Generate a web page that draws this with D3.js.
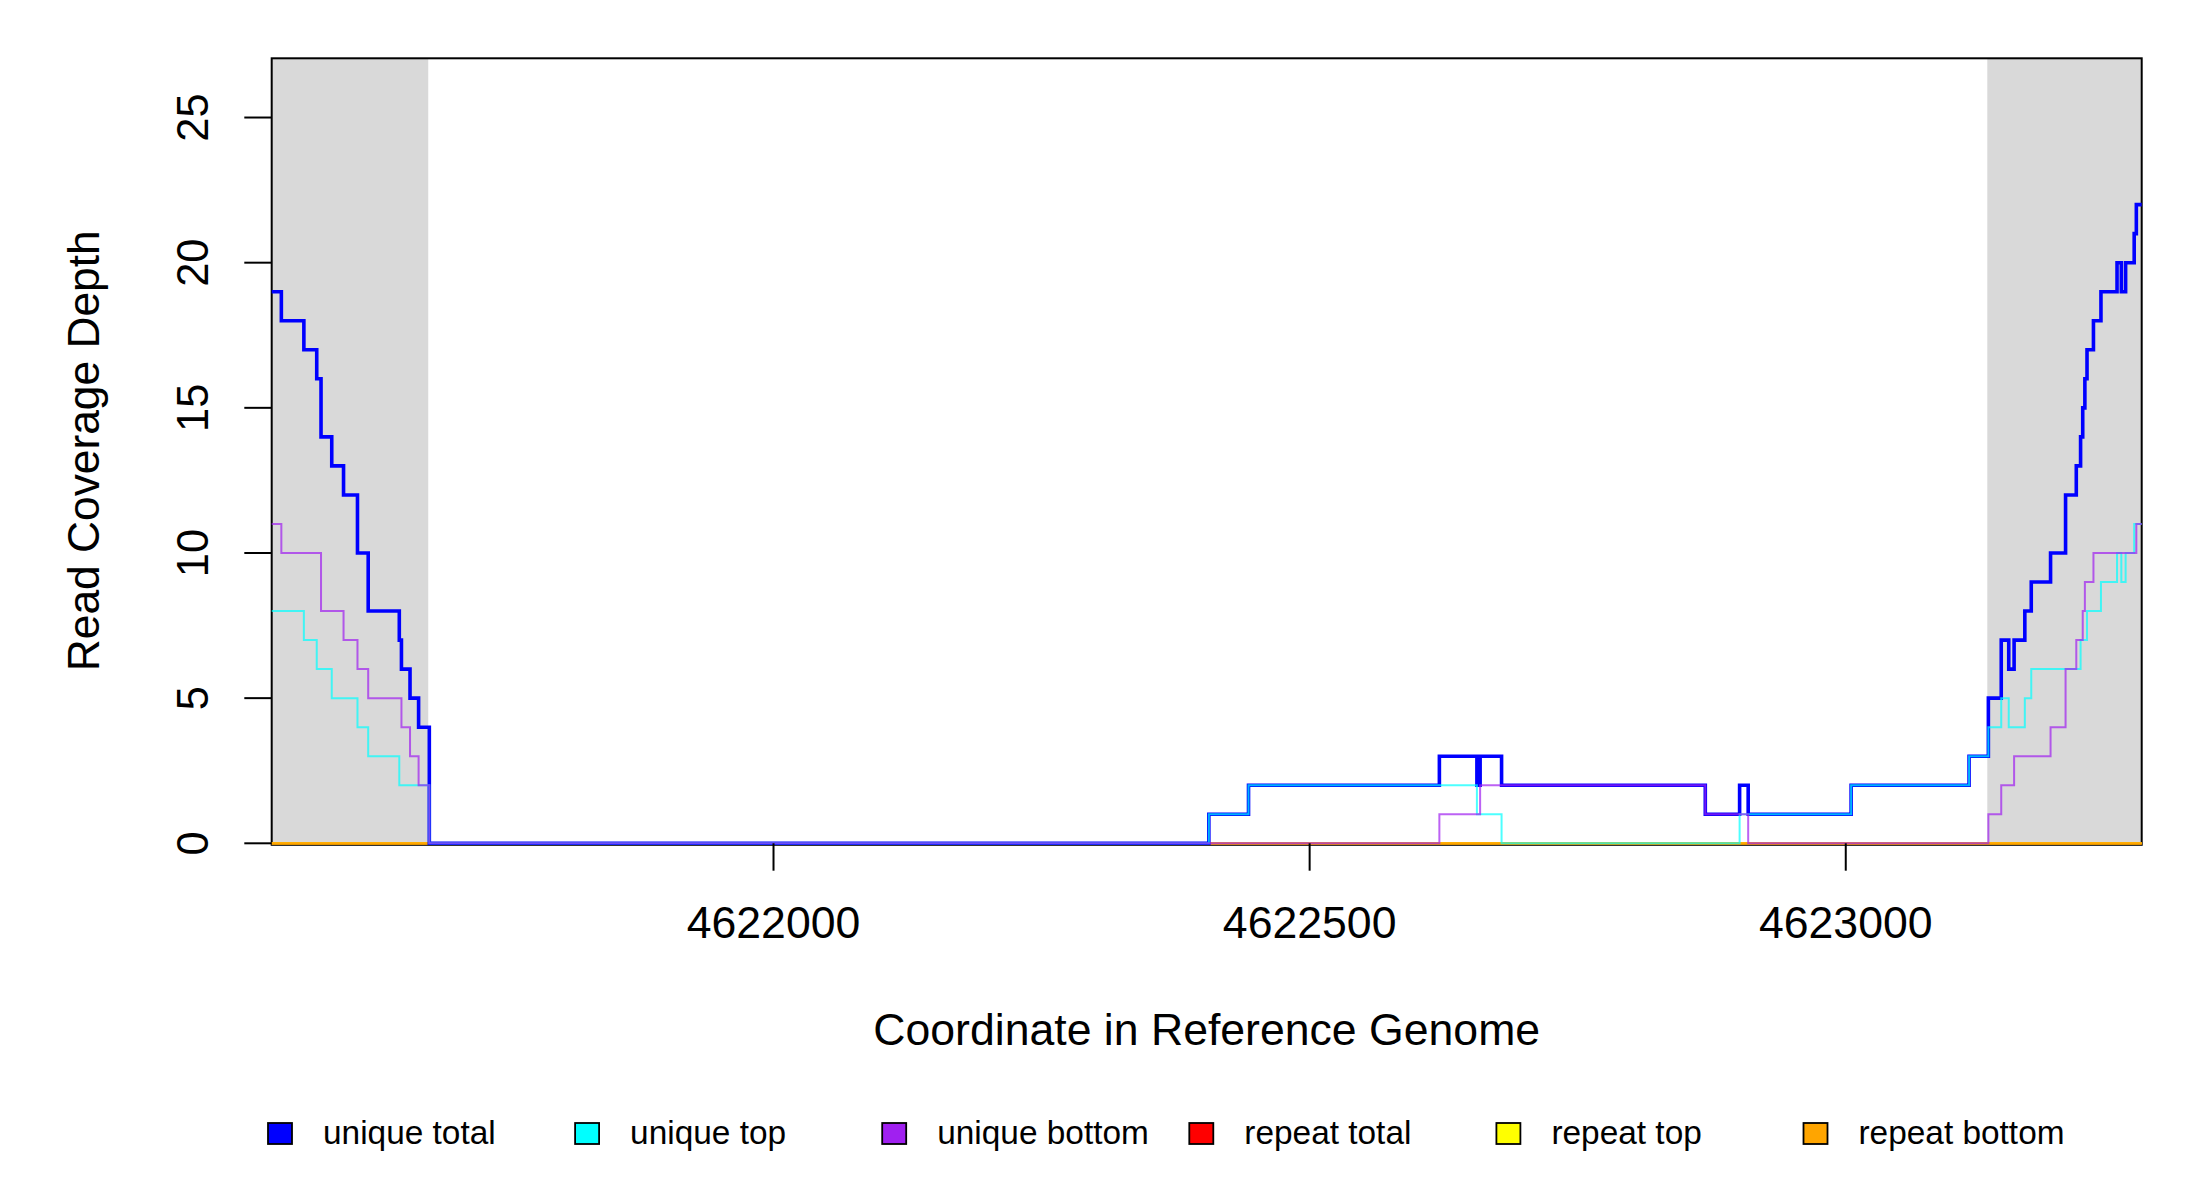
<!DOCTYPE html>
<html>
<head>
<meta charset="utf-8">
<script src="https://cdn.jsdelivr.net/npm/d3@7/dist/d3.min.js"></script>
<style>
  body { margin: 0; background: #fff; }
  text { font-family: "Liberation Sans", Arial, sans-serif; fill: #000; }
</style>
</head>
<body>
<svg id="chart"></svg>
<script>
// Coverage steps: value holds from each position until the next one
const xStart = 4621532;
const xEnd = 4623276;

const uniqueTotalPos = [4621532, 4621541, 4621562, 4621574, 4621578, 4621588, 4621599, 4621612, 4621622, 4621651,
  4621653, 4621661, 4621669, 4621679, 4622406, 4622443, 4622621, 4622656, 4622659, 4622679,
  4622869, 4622901, 4622909, 4623005, 4623115, 4623133, 4623145, 4623152, 4623157, 4623167,
  4623173, 4623191, 4623205, 4623215, 4623219, 4623221, 4623223, 4623225, 4623231, 4623238,
  4623253, 4623257, 4623261, 4623269, 4623271];
const uniqueTotalDepth = [19, 18, 17, 16, 14, 13, 12, 10, 8, 7,
  6, 5, 4, 0, 1, 2, 3, 2, 3, 2,
  1, 2, 1, 2, 3, 5, 7, 6, 7, 8,
  9, 10, 12, 13, 14, 15, 16, 17, 18, 19,
  20, 19, 20, 21, 22];

const uniqueTopPos = [4621532, 4621562, 4621574, 4621588, 4621612, 4621622, 4621651, 4621679, 4622406, 4622443,
  4622656, 4622679, 4622901, 4623005, 4623115, 4623133, 4623145, 4623152, 4623167, 4623173,
  4623219, 4623225, 4623238, 4623253, 4623257, 4623261, 4623269];
const uniqueTopDepth = [8, 7, 6, 5, 4, 3, 2, 0, 1, 2,
  1, 0, 1, 2, 3, 4, 5, 4, 5, 6,
  7, 8, 9, 10, 9, 10, 11];

const uniqueBottomPos = [4621532, 4621541, 4621578, 4621599, 4621612, 4621622, 4621653, 4621661, 4621669, 4621679,
  4622621, 4622659, 4622869, 4622909, 4623133, 4623145, 4623157, 4623191, 4623205, 4623215,
  4623221, 4623223, 4623231, 4623271];
const uniqueBottomDepth = [11, 10, 8, 7, 6, 5, 4, 3, 2, 0,
  1, 2, 1, 0, 1, 2, 3, 4, 6, 7,
  8, 9, 10, 11];

const repeatTotalPos = [4621532];
const repeatTotalDepth = [0];
const repeatTopPos = [4621532];
const repeatTopDepth = [0];
const repeatBottomPos = [4621532];
const repeatBottomDepth = [0];

// gray shaded flanks
const shadeFrom = [4621532, 4623132];
const shadeTo = [4621678, 4623276];

const xTicks = [4622000, 4622500, 4623000];
const yTicks = [0, 5, 10, 15, 20, 25];

const legendLabels = ["unique total", "unique top", "unique bottom", "repeat total", "repeat top", "repeat bottom"];
const legendColors = ["#0000ff", "#00ffff", "#a020f0", "#ff0000", "#ffff00", "#ffa500"];

// Chart size
const W = 2200, H = 1200;
const plotLeft = 271.7, plotRight = 2141.7, plotTop = 58.3, zeroY = 843.3;

const svg = d3.select("#chart").attr("width", W).attr("height", H);

// Scales
const x = d3.scaleLinear().domain([xStart, xEnd]).range([plotLeft, plotRight]);
const y = d3.scaleLinear().domain([0, 27.04]).range([zeroY, plotTop]);

// Shaded regions
svg.selectAll("rect.shade")
  .data(shadeFrom.map((s, i) => [s, shadeTo[i]]))
  .enter()
  .append("rect")
  .attr("class", "shade")
  .attr("x", d => x(d[0]))
  .attr("y", plotTop)
  .attr("width", d => x(d[1]) - x(d[0]))
  .attr("height", zeroY - plotTop)
  .attr("fill", "#d9d9d9");

// Box
svg.append("rect")
  .attr("x", plotLeft)
  .attr("y", plotTop)
  .attr("width", plotRight - plotLeft)
  .attr("height", zeroY + 1.5 - plotTop)
  .attr("fill", "none")
  .attr("stroke", "#000")
  .attr("stroke-width", 2);

// Step lines
const line = d3.line()
  .x(d => x(d[0]))
  .y(d => y(d[1]))
  .curve(d3.curveStepAfter);

function steps(pos, depth) {
  const pts = pos.map((p, i) => [p, depth[i]]);
  pts.push([xEnd, depth[depth.length - 1]]);
  return pts;
}

const series = [
  { pts: steps(repeatTotalPos, repeatTotalDepth), color: legendColors[3], w: 2.2, op: 1 },
  { pts: steps(repeatTopPos, repeatTopDepth), color: legendColors[4], w: 2.2, op: 1 },
  { pts: steps(repeatBottomPos, repeatBottomDepth), color: legendColors[5], w: 2.2, op: 1 },
  { pts: steps(uniqueTotalPos, uniqueTotalDepth), color: legendColors[0], w: 3.6, op: 1 },
  { pts: steps(uniqueTopPos, uniqueTopDepth), color: legendColors[1], w: 2, op: 0.7 },
  { pts: steps(uniqueBottomPos, uniqueBottomDepth), color: legendColors[2], w: 2, op: 0.7 }
];

svg.selectAll("path.cov")
  .data(series)
  .enter()
  .append("path")
  .attr("class", "cov")
  .attr("fill", "none")
  .attr("stroke", d => d.color)
  .attr("stroke-width", d => d.w)
  .attr("stroke-opacity", d => d.op)
  .attr("d", d => line(d.pts));

// Y axis ticks + labels
svg.selectAll("line.ytick")
  .data(yTicks)
  .enter()
  .append("line")
  .attr("x1", plotLeft - 27.4).attr("x2", plotLeft)
  .attr("y1", d => y(d)).attr("y2", d => y(d))
  .attr("stroke", "#000").attr("stroke-width", 2);

svg.selectAll("text.ylab")
  .data(yTicks)
  .enter()
  .append("text")
  .attr("transform", d => `translate(208,${y(d)}) rotate(-90)`)
  .attr("text-anchor", "middle")
  .attr("font-size", 43.5)
  .text(d => d);

// X axis ticks + labels
svg.selectAll("line.xtick")
  .data(xTicks)
  .enter()
  .append("line")
  .attr("x1", d => x(d)).attr("x2", d => x(d))
  .attr("y1", zeroY).attr("y2", zeroY + 27.4)
  .attr("stroke", "#000").attr("stroke-width", 2);

svg.selectAll("text.xlab")
  .data(xTicks)
  .enter()
  .append("text")
  .attr("x", d => x(d))
  .attr("y", 938)
  .attr("text-anchor", "middle")
  .attr("font-size", 44.6)
  .text(d => d);

// Axis titles
svg.append("text")
  .attr("x", (plotLeft + plotRight) / 2)
  .attr("y", 1045)
  .attr("text-anchor", "middle")
  .attr("font-size", 44.6)
  .text("Coordinate in Reference Genome");

svg.append("text")
  .attr("transform", `translate(98.5,${(plotTop + zeroY) / 2}) rotate(-90)`)
  .attr("text-anchor", "middle")
  .attr("font-size", 44.3)
  .text("Read Coverage Depth");

// Legend
const legend = svg.selectAll("g.leg")
  .data(legendLabels)
  .enter()
  .append("g")
  .attr("transform", (d, i) => `translate(${280 + i * 307.1},1133.5)`);

legend.append("rect")
  .attr("x", -12).attr("y", -10.5)
  .attr("width", 24).attr("height", 21)
  .attr("fill", (d, i) => legendColors[i])
  .attr("stroke", "#000").attr("stroke-width", 1.8);

legend.append("text")
  .attr("x", 43)
  .attr("y", 10.5)
  .attr("font-size", 33.4)
  .text(d => d);
</script>
</body>
</html>
